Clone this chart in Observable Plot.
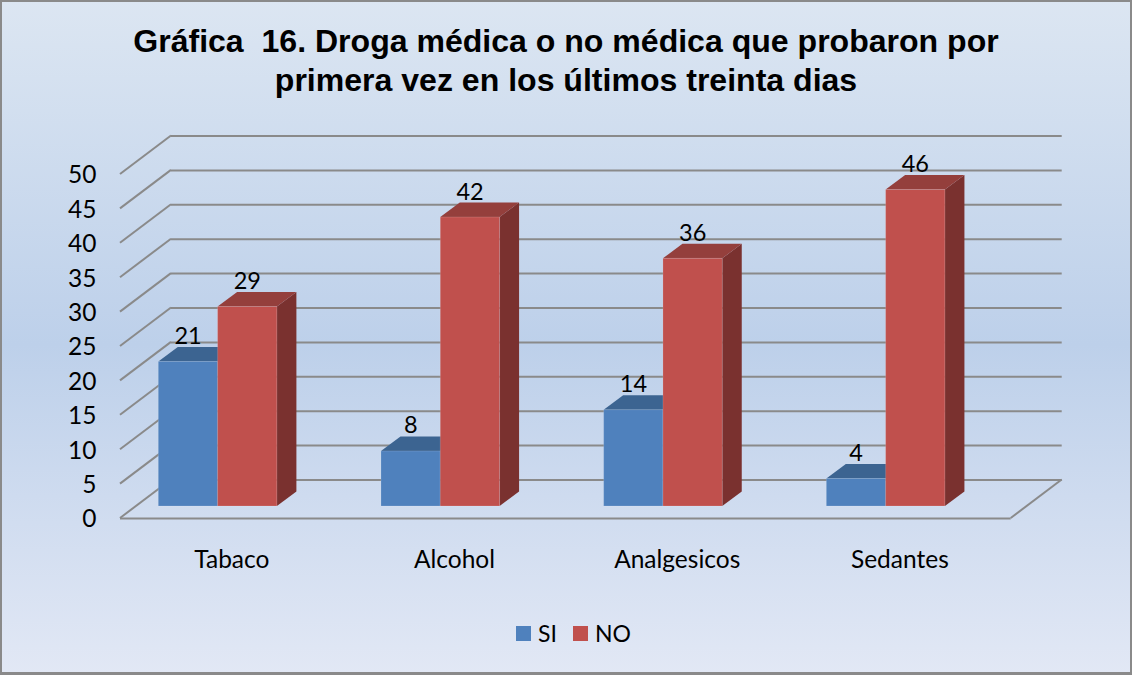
<!DOCTYPE html>
<html lang="es">
<head>
<meta charset="utf-8">
<script src="https://cdn.jsdelivr.net/npm/d3@7"></script>
<script src="https://cdn.jsdelivr.net/npm/@observablehq/plot@0.6"></script>
<style>
  html, body { margin: 0; padding: 0; background: #fff; }
  #chart {
    position: relative; width: 1132px; height: 675px; overflow: hidden;
    background: linear-gradient(180deg, #dce6f2 0%, #bdd0ea 51%, #e2e8f5 100%);
  }
  #frame { position: absolute; inset: 0; border: 2px solid #8a8a8a; border-bottom-width: 3px; box-sizing: border-box; pointer-events: none; }
  #title {
    height: 120px; box-sizing: border-box; padding-top: 22px; text-align: center;
    font: bold 32.05px/38.5px "Liberation Sans", Arial, sans-serif; color: #000; white-space: pre;
  }
  #chart svg { display: block; background: transparent; }
  #legend {
    position: absolute; left: 516px; top: 617px; display: flex; align-items: center;
    font: 23px/32px Lato, sans-serif; color: #000;
  }
  #legend i { display: inline-block; width: 15px; height: 15px; margin-right: 7px; }
  #legend span { margin-right: 16px; }
</style>
</head>
<body>
<div id="chart">
  <div id="title"></div>
  <div id="legend"></div>
  <div id="frame"></div>
</div>
<script>
const titleLines = ["Gráfica  16. Droga médica o no médica que probaron por", "primera vez en los últimos treinta dias"];
const categories = ["Tabaco", "Alcohol", "Analgesicos", "Sedantes"];
const siValues = [21, 8, 14, 4];
const noValues = [29, 42, 36, 46];
const yTicks = [0, 5, 10, 15, 20, 25, 30, 35, 40, 45, 50];
const seriesNames = ["SI", "NO"];

const colors = {
  SI: {front: "#4f81bd", top: "#3c6491", side: "#2f4f75"},
  NO: {front: "#c0504d", top: "#943f3c", side: "#7a312f"}
};
const gridColor = "#8a8a8a";
const font = "Lato, sans-serif";
const wall = {dx: 51, dy: -38.5};
const bar = {width: 59.3, dx: 19.5, dy: -14.5, lift: -12, start: 38.3};

const rows = s => categories.map((category, i) => ({
  category, series: s, value: (s === "SI" ? siValues : noValues)[i]
}));

function polygon(g, pts, fill) {
  return g.append("polygon").attr("points", pts.map(p => p.join(",")).join(" ")).attr("fill", fill);
}

// Depth lines of the walls and floor, placed through the y scale.
function wallDiagonals(index, scales, values, dimensions) {
  const g = d3.create("svg:g").attr("stroke", gridColor).attr("stroke-width", 2).attr("fill", "none");
  const x0 = dimensions.marginLeft, x1 = dimensions.width - dimensions.marginRight;
  for (const i of index) {
    const y = scales.y(yTicks[i]);
    g.append("line").attr("x1", x0).attr("y1", y).attr("x2", x0 + wall.dx).attr("y2", y + wall.dy);
    if (yTicks[i] === 0) g.append("line").attr("x1", x1).attr("y1", y).attr("x2", x1 + wall.dx).attr("y2", y + wall.dy);
  }
  return g.node();
}

// One solid per datum: front face, top and side are derived from the x and y scales.
function solids(series, offset) {
  const data = rows(series);
  const c = colors[series];
  return Plot.barY(data, {
    x: "category", y: "value",
    render(index, scales) {
      const g = d3.create("svg:g");
      for (const i of index) {
        const d = data[i];
        const l = scales.x(d.category) + bar.start + offset;
        const r = l + bar.width;
        const t = scales.y(d.value) + bar.lift;
        const b = scales.y(0) + bar.lift;
        polygon(g, [[r, t], [r + bar.dx, t + bar.dy], [r + bar.dx, b + bar.dy], [r, b]], c.side);
        polygon(g, [[l, t], [l + bar.dx, t + bar.dy], [r + bar.dx, t + bar.dy], [r, t]], c.top);
        polygon(g, [[l, t], [r, t], [r, b], [l, b]], c.front)
          .attr("stroke", "#fff").attr("stroke-opacity", 0.14).attr("stroke-width", 1);
      }
      return g.node();
    }
  });
}

const labels = (series, dx) => Plot.text(rows(series), {
  x: "category", y: "value", text: d => String(d.value),
  dx, dy: -37.5, fontSize: 23.5, fontFamily: font, fill: "#000"
});

const plot = Plot.plot({
  width: 1132, height: 480,
  marginLeft: 120, marginRight: 121.3, marginTop: 54, marginBottom: 82,
  style: {background: "transparent", fontFamily: font},
  x: {type: "band", domain: categories, padding: 0, round: false, label: null},
  y: {domain: [0, 50], label: null},
  marks: [
    Plot.ruleY(yTicks, {y: d => d, dx: wall.dx, dy: wall.dy, stroke: gridColor, strokeWidth: 2}),
    Plot.ruleY(yTicks, {y: d => d, render: wallDiagonals}),
    Plot.ruleY([0], {stroke: gridColor, strokeWidth: 2}),
    solids("SI", 0),
    solids("NO", bar.width),
    labels("SI", -43.8),
    labels("NO", 15.5),
    Plot.axisY(yTicks, {tickSize: 0, tickPadding: 24, dy: 1, fontSize: 24.5, fontFamily: font, fill: "#000", label: null}),
    Plot.axisX({tickSize: 0, tickPadding: 32, fontSize: 24.5, fontFamily: font, fill: "#000", label: null})
  ]
});
const chart = document.getElementById("chart");
chart.insertBefore(plot, document.getElementById("legend"));

document.getElementById("title").textContent = titleLines.join("\n");
const legend = document.getElementById("legend");
for (const s of seriesNames) {
  const sw = document.createElement("i");
  sw.style.background = colors[s].front;
  const t = document.createElement("span");
  t.textContent = s;
  legend.append(sw, t);
}
</script>
</body>
</html>
